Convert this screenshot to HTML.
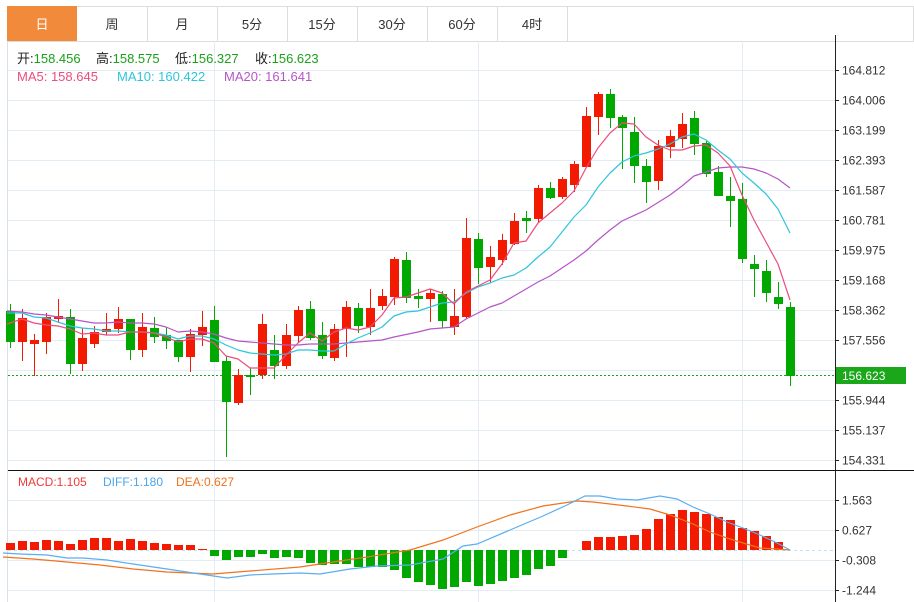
<!DOCTYPE html>
<html><head><meta charset="utf-8"><style>
html,body{margin:0;padding:0;background:#fff;}
body{width:914px;height:602px;overflow:hidden;position:relative;font-family:"Liberation Sans","Noto Sans CJK SC",sans-serif;}
svg{position:absolute;left:0;top:0;}
</style></head><body>
<svg width="914" height="602" viewBox="0 0 914 602" xmlns="http://www.w3.org/2000/svg" font-family="Liberation Sans, Noto Sans CJK SC, sans-serif">
<!-- tabs -->
<g stroke="#dcdcdc" fill="#fff">
<rect x="7.5" y="6.5" width="906" height="35"/>
</g>
<rect x="7" y="6" width="70" height="35" fill="#f28a3c"/>
<g stroke="#dcdcdc">
<path d="M147.5 6V41M217.5 6V41M287.5 6V41M357.5 6V41M427.5 6V41M497.5 6V41M567.5 6V41"/>
</g>
<g font-size="13" fill="#333" text-anchor="middle">
<text x="42" y="29" fill="#fff">日</text>
<text x="112" y="29">周</text>
<text x="182" y="29">月</text>
<text x="252" y="29">5分</text>
<text x="322" y="29">15分</text>
<text x="392" y="29">30分</text>
<text x="462" y="29">60分</text>
<text x="532" y="29">4时</text>
</g>
<!-- grid -->
<g stroke="#e3ecf3" stroke-width="1">
<path d="M8 70.5H835M8 100.5H835M8 130.5H835M8 160.5H835M8 190.5H835M8 220.5H835M8 250.5H835M8 280.5H835M8 310.5H835M8 340.5H835M8 370.5H835M8 400.5H835M8 430.5H835M8 460.5H835"/>
<path d="M8 500.5H835M8 530.5H835M8 560.5H835M8 590.5H835"/>
<path d="M214.5 41V602M478.5 41V602M742.5 41V602"/>
</g>
<path d="M7.5 41V602" stroke="#d8e0e8"/>
<!-- axis -->
<path d="M835.5 35V602" stroke="#222"/>
<path d="M8 470.5H914" stroke="#111"/>
<g stroke="#222"><path d="M835 70.5H839M835 100.5H839M835 130.5H839M835 160.5H839M835 190.5H839M835 220.5H839M835 250.5H839M835 280.5H839M835 310.5H839M835 340.5H839M835 400.5H839M835 430.5H839M835 460.5H839M835 500.5H839M835 530.5H839M835 560.5H839M835 590.5H839"/></g>
<g font-size="12" fill="#333">
<text x="842" y="74.5">164.812</text>
<text x="842" y="104.5">164.006</text>
<text x="842" y="134.5">163.199</text>
<text x="842" y="164.5">162.393</text>
<text x="842" y="194.5">161.587</text>
<text x="842" y="224.5">160.781</text>
<text x="842" y="254.5">159.975</text>
<text x="842" y="284.5">159.168</text>
<text x="842" y="314.5">158.362</text>
<text x="842" y="344.5">157.556</text>
<text x="842" y="404.5">155.944</text>
<text x="842" y="434.5">155.137</text>
<text x="842" y="464.5">154.331</text>
<text x="842" y="504.5">1.563</text>
<text x="842" y="534.5">0.627</text>
<text x="842" y="564.5">-0.308</text>
<text x="842" y="594.5">-1.244</text>
</g>
<!-- legend -->
<g font-size="13">
<text x="17" y="63" fill="#222">开:<tspan fill="#1aa01a">158.456</tspan></text>
<text x="96" y="63" fill="#222">高:<tspan fill="#1aa01a">158.575</tspan></text>
<text x="175" y="63" fill="#222">低:<tspan fill="#1aa01a">156.327</tspan></text>
<text x="255" y="63" fill="#222">收:<tspan fill="#1aa01a">156.623</tspan></text>
<text x="17" y="81" fill="#ec4d7c">MA5: 158.645</text>
<text x="117" y="81" fill="#2ec5dc">MA10: 160.422</text>
<text x="224" y="81" fill="#b556c6">MA20: 161.641</text>
</g>
<g font-size="12">
<text x="18" y="486" fill="#ee3b3b">MACD:1.105</text>
<text x="103" y="486" fill="#4aa6ee">DIFF:1.180</text>
<text x="176" y="486" fill="#f0731e">DEA:0.627</text>
</g>
<!-- current price line -->
<path d="M8 375.5H835" stroke="#1aa01a" stroke-dasharray="2,2"/>
<rect x="836" y="367" width="70" height="17" fill="#1aa81a"/>
<text x="842" y="380" font-size="12" fill="#fff">156.623</text>
<!-- candles green -->
<path stroke="#00a800" stroke-width="1" fill="none" d="M10.5 304V348M70.5 309V374M130.5 319V360M154.5 317V343M166.5 327V349M178.5 340V362M214.5 306V362M226.5 356V457M250.5 368V395M274.5 335V379M310.5 301V340M322.5 322V359M358.5 303V333M406.5 252V303M418.5 289V308M442.5 291V328M478.5 233V284M526.5 211V233M550.5 182V199M610.5 89V128M622.5 115V169M634.5 117V183M646.5 159V203M694.5 111V155M706.5 141V177M718.5 166V196M730.5 177V227M742.5 183V263M754.5 255V297M766.5 260V302M778.5 282V309M790.5 302V386"/>
<g fill="#00a800">
<rect x="6" y="311" width="9" height="31"/><rect x="66" y="317" width="9" height="47"/><rect x="126" y="319" width="9" height="31"/><rect x="150" y="328" width="9" height="9"/><rect x="162" y="335" width="9" height="6"/><rect x="174" y="340" width="9" height="17"/><rect x="210" y="320" width="9" height="42"/><rect x="222" y="361" width="9" height="41"/><rect x="246" y="375" width="9" height="2"/><rect x="270" y="350" width="9" height="16"/><rect x="306" y="309" width="9" height="29"/><rect x="318" y="335" width="9" height="21"/><rect x="354" y="308" width="9" height="18"/><rect x="402" y="260" width="9" height="38"/><rect x="414" y="296" width="9" height="3"/><rect x="438" y="294" width="9" height="27"/><rect x="474" y="239" width="9" height="29"/><rect x="522" y="218" width="9" height="3"/><rect x="546" y="188" width="9" height="10"/><rect x="606" y="94" width="9" height="24"/><rect x="618" y="117" width="9" height="11"/><rect x="630" y="132" width="9" height="34"/><rect x="642" y="166" width="9" height="16"/><rect x="690" y="118" width="9" height="26"/><rect x="702" y="143" width="9" height="31"/><rect x="714" y="172" width="9" height="24"/><rect x="726" y="196" width="9" height="5"/><rect x="738" y="199" width="9" height="60"/><rect x="750" y="264" width="9" height="5"/><rect x="762" y="271" width="9" height="22"/><rect x="774" y="297" width="9" height="7"/><rect x="786" y="307" width="9" height="69"/>
</g>
<!-- candles red -->
<path stroke="#f21a00" stroke-width="1" fill="none" d="M22.5 309V361M34.5 334V376M46.5 313V354M58.5 299V323M82.5 328V371M94.5 326V348M106.5 313V335M118.5 307V333M142.5 313V357M190.5 329V372M202.5 311V346M238.5 369V405M262.5 314V379M286.5 324V369M298.5 306V342M334.5 324V361M346.5 301V357M370.5 289V335M382.5 289V310M394.5 257V305M430.5 289V322M454.5 289V335M466.5 218V319M490.5 246V283M502.5 234V265M514.5 213V245M538.5 185V223M562.5 177V199M574.5 161V192M586.5 107V167M598.5 92V135M658.5 140V190M670.5 130V158M682.5 113V148"/>
<g fill="#f21a00">
<rect x="18" y="318" width="9" height="24"/><rect x="30" y="340" width="9" height="4"/><rect x="42" y="317" width="9" height="25"/><rect x="54" y="316" width="9" height="3"/><rect x="78" y="338" width="9" height="26"/><rect x="90" y="332" width="9" height="12"/><rect x="102" y="329" width="9" height="3"/><rect x="114" y="319" width="9" height="10"/><rect x="138" y="327" width="9" height="23"/><rect x="186" y="334" width="9" height="23"/><rect x="198" y="327" width="9" height="8"/><rect x="234" y="375" width="9" height="28"/><rect x="258" y="324" width="9" height="51"/><rect x="282" y="335" width="9" height="31"/><rect x="294" y="310" width="9" height="26"/><rect x="330" y="329" width="9" height="29"/><rect x="342" y="307" width="9" height="22"/><rect x="366" y="308" width="9" height="19"/><rect x="378" y="296" width="9" height="10"/><rect x="390" y="259" width="9" height="38"/><rect x="426" y="293" width="9" height="6"/><rect x="450" y="316" width="9" height="11"/><rect x="462" y="238" width="9" height="79"/><rect x="486" y="257" width="9" height="10"/><rect x="498" y="240" width="9" height="20"/><rect x="510" y="221" width="9" height="23"/><rect x="534" y="188" width="9" height="31"/><rect x="558" y="179" width="9" height="18"/><rect x="570" y="164" width="9" height="21"/><rect x="582" y="116" width="9" height="51"/><rect x="594" y="94" width="9" height="23"/><rect x="654" y="146" width="9" height="35"/><rect x="666" y="136" width="9" height="11"/><rect x="678" y="124" width="9" height="15"/>
</g>
<!-- MAs -->
<g fill="none" stroke-width="1.2" stroke-linejoin="round">
<polyline stroke="#b556c6" points="7,311 22,312 34,314 46,315 58,317 70,319 82,321 94,323 106,323 118,322 130,323 142,323 154,324 166,327 178,332 190,331 202,332 214,334 226,338 238,341 250,342 262,343 274,344 286,345 298,345 310,344 334,344 358,342 382,340 394,337 418,332 430,329 454,327 466,319 490,307 502,303 514,296 538,282 550,276 562,268 574,260 586,251 598,240 610,230 622,221 646,210 670,195 682,186 694,176 706,172 718,168 730,167 742,167 754,169 766,173 778,179 790,188"/>
<polyline stroke="#2ec5dc" points="7,313 22,313 34,317 46,318 58,322 70,326 82,328 94,329 106,331 118,331 130,332 142,332 154,333 166,335 178,339 190,336 202,336 214,339 226,345 238,350 250,353 262,354 274,355 286,354 298,350 310,350 322,351 334,351 346,344 358,338 370,333 382,327 394,316 406,312 418,311 430,307 442,303 454,302 466,293 478,287 490,283 502,278 514,275 526,268 538,257 550,247 562,232 574,217 586,205 598,187 610,173 622,162 634,156 646,153 658,149 670,144 682,137 694,134 706,140 718,150 730,159 742,173 754,183 766,194 778,209 790,233"/>
<polyline stroke="#ec4d7c" points="7,324 22,319 34,323 46,325 58,326 70,329 82,334 94,333 106,335 118,335 130,332 142,332 154,333 166,337 178,342 190,339 202,339 214,343 226,356 238,359 250,368 262,368 274,368 286,355 298,343 310,333 322,341 334,332 346,328 358,330 370,327 382,315 394,298 406,297 418,293 430,289 442,293 454,304 466,292 478,286 490,280 502,264 514,243 526,241 538,223 550,213 562,203 574,191 586,168 598,148 610,133 622,123 634,124 646,137 658,145 670,150 682,150 694,146 706,145 718,153 730,166 742,195 754,220 766,242 778,264 790,300"/>
</g>
<!-- MACD -->
<path d="M8 550.5H835" stroke="#bfe3f2" stroke-dasharray="3,3"/>
<g fill="#f21a00">
<rect x="6" y="543" width="9" height="7"/><rect x="18" y="541" width="9" height="9"/><rect x="30" y="542" width="9" height="8"/><rect x="42" y="540" width="9" height="10"/><rect x="54" y="541" width="9" height="9"/><rect x="66" y="544" width="9" height="6"/><rect x="78" y="540" width="9" height="10"/><rect x="90" y="538" width="9" height="12"/><rect x="102" y="538" width="9" height="12"/><rect x="114" y="541" width="9" height="9"/><rect x="126" y="539" width="9" height="11"/><rect x="138" y="541" width="9" height="9"/><rect x="150" y="543" width="9" height="7"/><rect x="162" y="544" width="9" height="6"/><rect x="174" y="545" width="9" height="5"/><rect x="186" y="545" width="9" height="5"/><rect x="198" y="549" width="9" height="1"/>
<rect x="582" y="541" width="9" height="9"/><rect x="594" y="537" width="9" height="13"/><rect x="606" y="537" width="9" height="13"/><rect x="618" y="536" width="9" height="14"/><rect x="630" y="535" width="9" height="15"/><rect x="642" y="529" width="9" height="21"/><rect x="654" y="519" width="9" height="31"/><rect x="666" y="514" width="9" height="36"/><rect x="678" y="510" width="9" height="40"/><rect x="690" y="512" width="9" height="38"/><rect x="702" y="514" width="9" height="36"/><rect x="714" y="517" width="9" height="33"/><rect x="726" y="520" width="9" height="30"/><rect x="738" y="528" width="9" height="22"/><rect x="750" y="531" width="9" height="19"/><rect x="762" y="536" width="9" height="14"/><rect x="774" y="542" width="9" height="8"/>
</g>
<g fill="#00a800">
<rect x="210" y="550" width="9" height="6"/><rect x="222" y="550" width="9" height="10"/><rect x="234" y="550" width="9" height="7"/><rect x="246" y="550" width="9" height="7"/><rect x="258" y="550" width="9" height="4"/><rect x="270" y="550" width="9" height="8"/><rect x="282" y="550" width="9" height="7"/><rect x="294" y="550" width="9" height="8"/><rect x="306" y="550" width="9" height="13"/><rect x="318" y="550" width="9" height="15"/><rect x="330" y="550" width="9" height="14"/><rect x="342" y="550" width="9" height="14"/><rect x="354" y="550" width="9" height="17"/><rect x="366" y="550" width="9" height="17"/><rect x="378" y="550" width="9" height="17"/><rect x="390" y="550" width="9" height="20"/><rect x="402" y="550" width="9" height="28"/><rect x="414" y="550" width="9" height="32"/><rect x="426" y="550" width="9" height="35"/><rect x="438" y="550" width="9" height="39"/><rect x="450" y="550" width="9" height="37"/><rect x="462" y="550" width="9" height="32"/><rect x="474" y="550" width="9" height="36"/><rect x="486" y="550" width="9" height="34"/><rect x="498" y="550" width="9" height="31"/><rect x="510" y="550" width="9" height="28"/><rect x="522" y="550" width="9" height="25"/><rect x="534" y="550" width="9" height="19"/><rect x="546" y="550" width="9" height="16"/><rect x="558" y="550" width="9" height="8"/>
</g>
<g fill="none" stroke-width="1.2">
<polyline stroke="#f0731e" points="3,557 33,559 67,562 100,565 133,569 167,572 213,574 250,571 300,567 333,562 367,557 410,550 443,540 477,527 510,515 543,506 577,501 593,502 627,506 650,509 670,515 693,524 710,532 727,538 743,543 760,548 777,549 790,550"/>
<polyline stroke="#5aaef0" points="3,553 20,554 47,555 67,558 83,558 107,560 133,564 167,569 200,574 227,578 250,575 273,574 300,573 320,574 350,569 377,566 410,565 443,559 463,546 477,544 510,530 543,516 567,505 585,496 600,496 617,499 637,500 660,496 677,499 693,507 710,514 727,522 743,528 760,535 777,543 790,550"/>
</g>
</svg>
</body></html>
